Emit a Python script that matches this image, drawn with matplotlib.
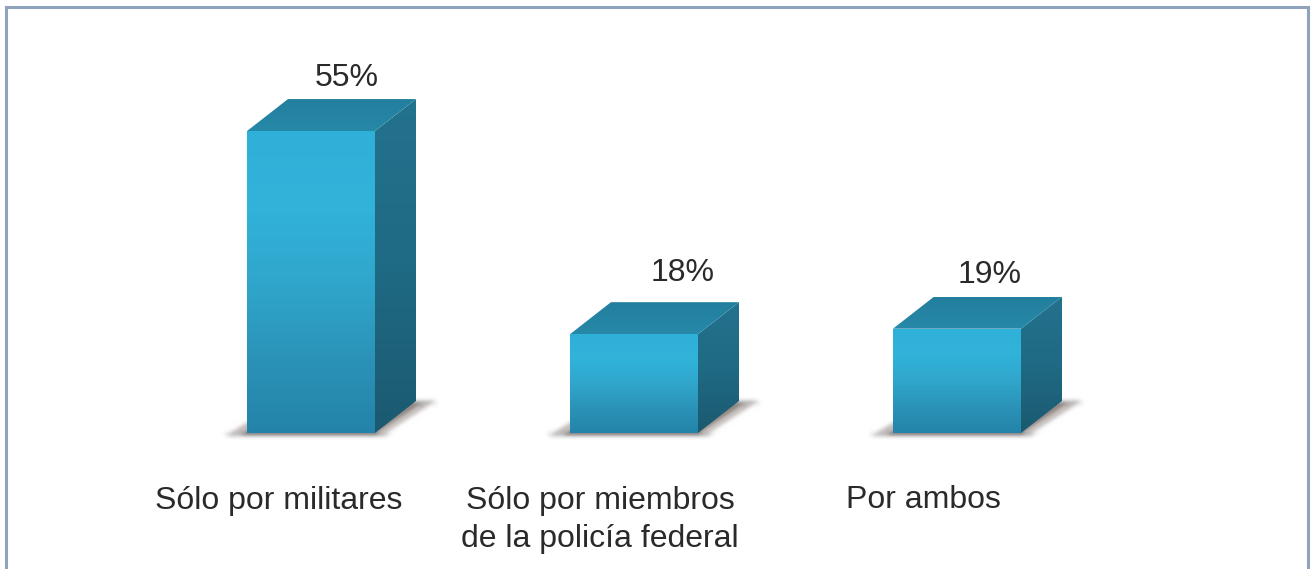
import numpy as np
import matplotlib
matplotlib.use("Agg")
import matplotlib.pyplot as plt
from matplotlib.patches import Polygon
from matplotlib.colors import LinearSegmentedColormap

categories = ["Sólo por militares", "Sólo por miembros\nde la policía federal", "Por ambos"]
values = [55, 18, 19]
value_labels = ["55%", "18%", "19%"]

W, H = 1313, 569
BAR_PX, DX_PX, DY_PX = 128, 41, 32
X0_PX, STEP_PX = 311, 323
BASE_PX, PX_PER_PCT = 433, 5.49
TEXT = '#2a2a2a'
FS = 23

plt.rcParams['font.family'] = ['Liberation Sans', 'DejaVu Sans']
fig = plt.figure(figsize=(W / 100, H / 100), dpi=100, facecolor='white')
ax = fig.add_axes([0, 0, 1, 1])
ax.set_xlim(-X0_PX / STEP_PX, (W - X0_PX) / STEP_PX)
ax.set_ylim(-(H - BASE_PX) / PX_PER_PCT, BASE_PX / PX_PER_PCT)
ax.axis('off')

bw = BAR_PX / STEP_PX
dx = DX_PX / STEP_PX
dy = DY_PX / PX_PER_PCT
ux = 1 / STEP_PX
uy = 1 / PX_PER_PCT

front_cm = LinearSegmentedColormap.from_list('f', ['#2483a8', '#2b93b8', '#30a6cc', '#31b3da', '#2fb0d8'])
side_cm = LinearSegmentedColormap.from_list('s', ['#1b5a70', '#1f6a84', '#23728e'])
top_cm = LinearSegmentedColormap.from_list('t', ['#2788a8', '#237f9e'])
grad = np.linspace(0, 1, 256).reshape(-1, 1)


def blur(sigma):
    def _f(img, dpi):
        pad = int(3 * sigma) + 1
        out = np.pad(img, ((pad, pad), (pad, pad), (0, 0)))
        xs = np.arange(-pad, pad + 1)
        kern = np.exp(-xs ** 2 / (2 * sigma ** 2))
        kern /= kern.sum()
        for axis in (0, 1):
            out = np.apply_along_axis(lambda a: np.convolve(a, kern, mode='same'), axis, out)
        return out, -pad, -pad
    return _f


def fill(pts, cmap, ymin, ymax, z):
    im = ax.imshow(grad, extent=(pts[:, 0].min(), pts[:, 0].max(), ymin, ymax),
                   origin='lower', cmap=cmap, aspect='auto', zorder=z, interpolation='bilinear')
    p = Polygon(pts, closed=True, fc='none', ec='none')
    ax.add_patch(p)
    im.set_clip_path(p)


label_offsets = [(36, 21), (49, 29), (33, 22)]
for i, v in enumerate(values):
    l, r = i - bw / 2, i + bw / 2
    wide = np.array([(l - 22 * ux, -1.5 * uy), (l + 30 * ux, dy - 3 * uy),
                     (r + dx + 20 * ux, dy - 1 * uy), (r + 10 * ux, -1.5 * uy)])
    ax.add_patch(Polygon(wide, closed=True, fc='#a59c98', ec='none', alpha=0.7, zorder=1,
                         agg_filter=blur(2.5)))
    narrow = np.array([(l - 6 * ux, -1 * uy), (l + 30 * ux, dy - 5 * uy),
                       (r + dx + 6 * ux, dy - 3 * uy), (r + 1 * ux, -1 * uy)])
    ax.add_patch(Polygon(narrow, closed=True, fc='#72645f', ec='none', alpha=0.6, zorder=1,
                         agg_filter=blur(2)))

    front = np.array([(l, 0), (r, 0), (r, v), (l, v)])
    side = np.array([(r, 0), (r + dx, dy), (r + dx, v + dy), (r, v)])
    top = np.array([(l, v), (r, v), (r + dx, v + dy), (l + dx, v + dy)])
    fill(side, side_cm, 0, v + dy, 2)
    fill(top, top_cm, v, v + dy, 3)
    fill(front, front_cm, 0, v, 4)

    ox, oy = label_offsets[i]
    ax.text(i + ox * ux, v + dy + oy * uy, value_labels[i], ha='center', va='center',
            fontsize=FS, color=TEXT, zorder=6)

label_anchor_px = [(155, 'left'), (600, 'center'), (846, 'left')]
LINE_PX = [497, 535]
for i, c in enumerate(categories):
    px, ha = label_anchor_px[i]
    for j, line in enumerate(c.split('\n')):
        ax.text((px - X0_PX) * ux, (BASE_PX - LINE_PX[j]) * uy, line, ha=ha,
                va='center_baseline', fontsize=FS, color=TEXT, zorder=6)

fx0, fx1 = 5.5 / W, 1307.5 / W
ftop = 1 - 6.5 / H
ax.plot([fx0, fx0, fx1, fx1], [-0.01, ftop, ftop, -0.01], transform=ax.transAxes,
        color='#8fa3bd', lw=2.2, solid_joinstyle='miter', zorder=7, clip_on=False)

fig.savefig('out.png', dpi=100, facecolor='white')
